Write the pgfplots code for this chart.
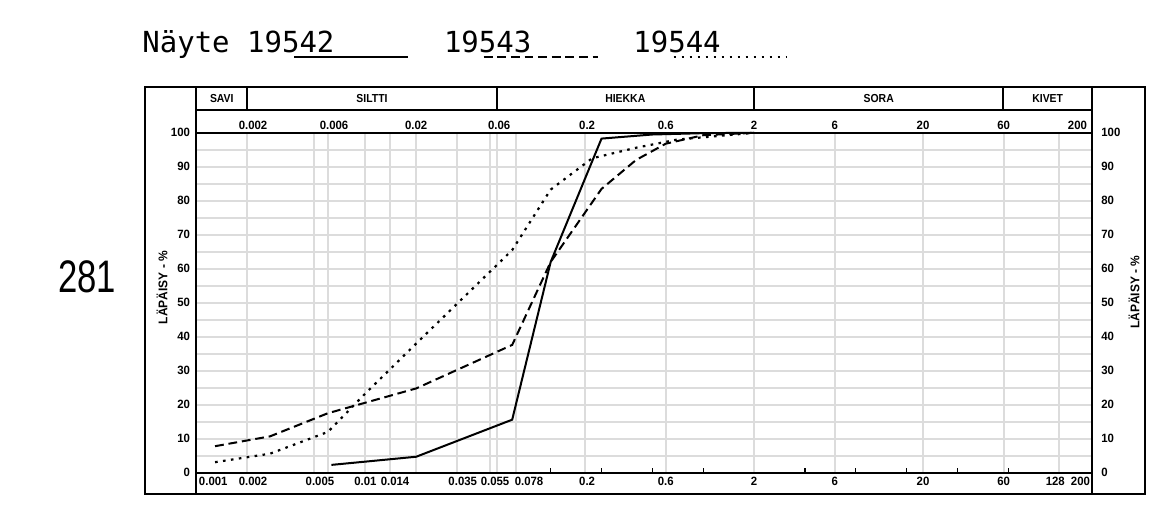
\documentclass[border=0pt]{standalone}
\usepackage{fontspec}
\setmainfont{Liberation Sans}
\usepackage{pgfplots}
\pgfplotsset{compat=1.18}
\newfontfamily\cnd[FakeStretch=0.95]{Liberation Sans Bold}
\newfontfamily\hdr[FakeStretch=0.9]{Liberation Sans Bold}
\newfontfamily\mono{DejaVu Sans Mono}
\newfontfamily\thin[FakeStretch=0.76]{Liberation Sans}
\definecolor{gridc}{HTML}{DCDCDC}

\begin{document}
\begin{tikzpicture}
\useasboundingbox (0,0) rectangle (583.5pt,-255pt);
\begin{axis}[
  at={(98.2pt,-236.35pt)}, anchor=south west,
  scale only axis, width=447.8pt, height=169.95pt,
  xmode=log, xmin=0.001, xmax=200, ymin=0, ymax=100,
  axis line style={line width=1pt, black},
  tick pos=left,
  major tick length=0pt, minor tick length=0pt,
  xtick={0.001,0.002,0.005,0.006,0.01,0.014,0.02,0.035,0.055,0.06,0.078,0.2,0.6,2,6,20,60,128,200},
  xticklabels={\rlap{\hspace{1.3pt}0.001},\hspace*{5.8pt}0.002,\hspace*{5.5pt}0.005,{},0.01,\hspace*{5pt}0.014,{},\hspace*{5.5pt}0.035,\hspace*{4.6pt}0.055,{},\hspace*{13pt}0.078,\hspace*{2pt}0.2,0.6,2,6,20,60,128\hspace*{4pt},\llap{200\hspace{1pt}}},
  minor xtick={},
  ytick={0,5,...,100},
  yticklabels={0,{},10,{},20,{},30,{},40,{},50,{},60,{},70,{},80,{},90,{},100},
  grid=major, major grid style={gridc, line width=1pt},
  extra x ticks={0.125,0.25,0.5,1,4,8,16,32,64},
  extra x tick labels={},
  extra x tick style={grid=none, major tick length=2.6pt, tick style={black, line width=0.6pt}},
  tick label style={font=\cnd\fontsize{6}{7}\selectfont, inner sep=0pt},
  xticklabel style={anchor=north, yshift=-2pt},
  yticklabel style={anchor=east, xshift=-3pt},
  clip=false,
]
% 19542 (solid)
\addplot[black, line width=1pt] coordinates {
  (0.0063,2.3) (0.02,4.7) (0.074,15.6) (0.125,62) (0.25,98.3) (0.5,99.5) (1,99.9) (2,100)
};
% 19543 (dashed)
\addplot[black, line width=1pt, dash pattern=on 4.4pt off 2.4pt] coordinates {
  (0.00129,7.8) (0.00273,10.7) (0.006,17.5) (0.02,24.8) (0.074,37.6) (0.125,62) (0.25,83.5) (0.4,92) (0.6,96.8) (1,99.3) (2,100)
};
% 19544 (dotted)
\addplot[black, line width=1.1pt, dash pattern=on 1.3pt off 2.7pt] coordinates {
  (0.00129,3.1) (0.00273,5.6) (0.006,12) (0.01,23.3) (0.02,38) (0.074,65.5) (0.125,83.3) (0.22,92.5) (0.4,95.6) (0.7,98) (2,100)
};
\end{axis}
\begin{axis}[
  at={(98.2pt,-236.35pt)}, anchor=south west,
  scale only axis, width=447.8pt, height=169.95pt,
  xmode=log, xmin=0.001, xmax=200, ymin=0, ymax=100,
  axis line style={draw=none},
  tick pos=right, xticklabel pos=right, yticklabel pos=right,
  major tick length=0pt, minor tick length=0pt,
  xtick={0.002,0.006,0.02,0.06,0.2,0.6,2,6,20,60,200},
  xticklabels={\hspace*{5.8pt}0.002,\hspace*{6.2pt}0.006,0.02,\hspace*{2.3pt}0.06,\hspace*{2pt}0.2,0.6,2,6,20,60,\llap{200\hspace{2.5pt}}},
  minor xtick={},
  ytick={0,10,...,100},
  yticklabels={0,10,20,30,40,50,60,70,80,90,100},
  tick label style={font=\cnd\fontsize{6}{7}\selectfont, inner sep=0pt},
  xticklabel style={anchor=south, yshift=1.3pt},
  yticklabel style={anchor=west, xshift=4.5pt},
]
\end{axis}
\begin{scope}[x=0.5pt, y=-0.5pt]
  \draw[line width=1pt] (144.5,87.3) rectangle (1145,494);
  \draw[line width=1pt] (196.4,87.3) -- (196.4,494);
  \draw[line width=1pt] (1092,87.3) -- (1092,494);
  \draw[line width=1pt] (196.4,110) -- (1092,110);
  \foreach \xx in {247.2,496.7,753.9,1003.4} {\draw[line width=1pt] (\xx,87.3) -- (\xx,110);}
  \begin{scope}[every node/.style={font=\hdr\fontsize{5.8}{7}\selectfont, inner sep=0pt}]
    \node at (221.8,98.7) {SAVI};
    \node at (372,98.7) {SILTTI};
    \node at (625.3,98.7) {HIEKKA};
    \node at (878.7,98.7) {SORA};
    \node at (1047.7,98.7) {KIVET};
  \end{scope}
  \node[rotate=90, inner sep=0pt, font=\cnd\fontsize{6.3}{7}\selectfont] at (162,287.5) {LÄPÄISY - \%};
  \node[rotate=90, inner sep=0pt, font=\cnd\fontsize{6.3}{7}\selectfont] at (1134,292) {LÄPÄISY - \%};
  \begin{scope}[every node/.style={font=\mono\fontsize{14.5}{16}\selectfont, inner sep=0pt, anchor=base west}]
    \node at (142,52) {Näyte 19542};
    \node at (443.6,52) {19543};
    \node at (633,52) {19544};
  \end{scope}
  \draw[line width=1pt] (294,57) -- (408,57);
  \draw[line width=1pt, dash pattern=on 4.4pt off 2.4pt] (483.7,57) -- (597.6,57);
  \draw[line width=1.1pt, dash pattern=on 1.3pt off 2.7pt] (673.5,57) -- (787,57);
  \node[font=\thin\fontsize{22.8}{24}\selectfont, anchor=base west, inner sep=0pt] at (58,292.7) {281};
\end{scope}
\end{tikzpicture}
\end{document}
